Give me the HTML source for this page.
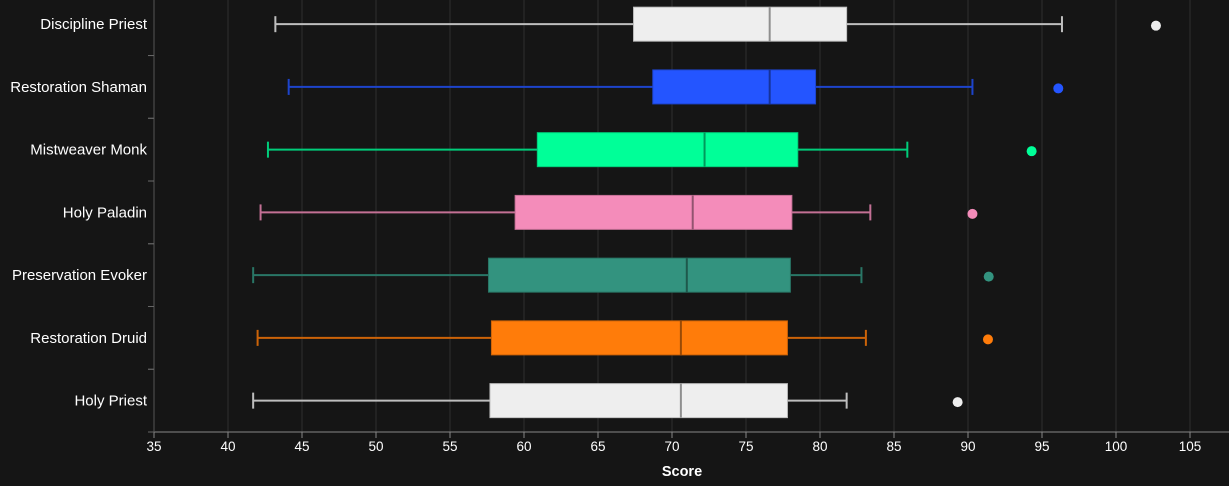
<!DOCTYPE html>
<html><head><meta charset="utf-8"><style>
body{margin:0;background:#151515;}
svg{display:block;font-family:"Liberation Sans",sans-serif;}
</style></head><body>
<svg id="chart" width="1229" height="486"></svg>
<script>
const categories=["Discipline Priest","Restoration Shaman","Mistweaver Monk","Holy Paladin","Preservation Evoker","Restoration Druid","Holy Priest"];
const mins=[43.2,44.1,42.7,42.2,41.7,42.0,41.7];
const q1s=[67.4,68.7,60.9,59.4,57.6,57.8,57.7];
const medians=[76.6,76.6,72.2,71.4,71.0,70.6,70.6];
const q3s=[81.8,79.7,78.5,78.1,78.0,77.8,77.8];
const maxs=[96.35,90.3,85.9,83.4,82.8,83.1,81.8];
const outliers=[102.7,96.1,94.3,90.3,91.4,91.35,89.3];
const colors=["#eeeeee","#2455ff","#00ff98","#f48cba","#33937f","#ff7c0a","#eeeeee"];
const xTicks=[35,40,45,50,55,60,65,70,75,80,85,90,95,100,105];

const NS="http://www.w3.org/2000/svg";
const svg=document.getElementById('chart');
const x0=154,x1=1190,top_=-7.2,bot=432;
const xs=v=>x0+(v-35)/70*(x1-x0);
const band=(bot-top_)/categories.length;
const yc=i=>top_+band*(i+0.5);
function mk(t,a,p){const e=document.createElementNS(NS,t);for(const k in a)e.setAttribute(k,a[k]);(p||svg).appendChild(e);return e;}
function shade(c,f){const n=parseInt(c.slice(1),16);let r=n>>16,g=(n>>8)&255,b=n&255;return `rgb(${Math.round(r*f)},${Math.round(g*f)},${Math.round(b*f)})`;}

xTicks.forEach(t=>{
  const g=mk('line',{x1:xs(t),x2:xs(t),y1:0,y2:bot,stroke:'#2e2e2e','stroke-width':1});
  
  
  const tk=mk('line',{x1:xs(t),x2:xs(t),y1:bot,y2:bot+6,stroke:'#888'});
  
  
  const tx=mk('text',{x:xs(t),y:bot+19,fill:'#fff','font-size':13.5,'text-anchor':'middle'});
  tx.textContent=t;
  
  
});
const ax=mk('line',{x1:x0,x2:x1+40,y1:bot,y2:bot,stroke:'#888'});


const ay=mk('line',{x1:x0,x2:x0,y1:0,y2:bot,stroke:'#555'});


const xt=mk('text',{x:(x0+1220)/2-5,y:476,fill:'#fff','font-size':14.5,'font-weight':'bold','text-anchor':'middle'});
xt.textContent='Score';



categories.forEach((c,i)=>{
  const y=yc(i),col=colors[i],dk=shade(col,0.8);
  for(let k=0;k<=1;k++){const tk=mk('line',{x1:x0-6,x2:x0,y1:top_+band*(i+k),y2:top_+band*(i+k),stroke:'#666'});
    
    }
  const lb=mk('text',{x:147,y:y+5,fill:'#fff','font-size':15,'text-anchor':'end'});
  lb.textContent=c;
  
  
  const g=mk('g',{});
  
  
  mk('line',{x1:xs(mins[i]),x2:xs(maxs[i]),y1:y,y2:y,stroke:dk,'stroke-width':2},g);
  mk('line',{x1:xs(mins[i]),x2:xs(mins[i]),y1:y-8,y2:y+8,stroke:dk,'stroke-width':2},g);
  mk('line',{x1:xs(maxs[i]),x2:xs(maxs[i]),y1:y-8,y2:y+8,stroke:dk,'stroke-width':2},g);
  mk('rect',{x:xs(q1s[i]),y:y-17,width:xs(q3s[i])-xs(q1s[i]),height:34,fill:col,stroke:dk,'stroke-width':1},g);
  mk('line',{x1:xs(medians[i]),x2:xs(medians[i]),y1:y-17,y2:y+17,stroke:shade(col,0.6),'stroke-width':2},g);
  const o=mk('circle',{cx:xs(outliers[i]),cy:y+1.5,r:5,fill:col});
  
  
});
</script>
</body></html>
